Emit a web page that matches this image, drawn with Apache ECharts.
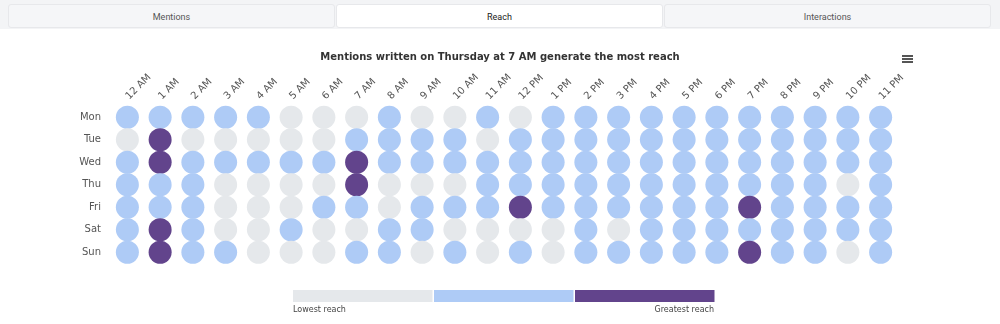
<!DOCTYPE html>
<html>
<head>
<meta charset="utf-8">
<script src="https://cdn.jsdelivr.net/npm/echarts@6/dist/echarts.min.js"></script>
<style>
  html, body { margin: 0; padding: 0; background: #fff; }
  #wrap { position: relative; width: 1000px; height: 324px; overflow: hidden; }
  #chart { position: absolute; left: 0; top: 0; width: 1000px; height: 324px; }
  #tabs { position: absolute; left: 0; top: 0; width: 1000px; height: 29px; background: #f3f4f6; z-index: 2; }
  .tab { position: absolute; top: 4px; height: 24px; width: 327px; box-sizing: border-box;
         border: 1px solid #e7e8eb; border-radius: 3px; background: #f5f6f8;
         font-family: Roboto, sans-serif; font-size: 9px; color: #555; text-align: center; line-height: 24px; }
  .tab.active { background: #fff; color: #222; }
</style>
</head>
<body>
<div id="wrap">
  <div id="chart"></div>
  <div id="tabs">
    <div class="tab" style="left:8px">Mentions</div>
    <div class="tab active" style="left:336px">Reach</div>
    <div class="tab" style="left:664px">Interactions</div>
  </div>
</div>
<script>
const hours = ['12 AM','1 AM','2 AM','3 AM','4 AM','5 AM','6 AM','7 AM','8 AM','9 AM','10 AM','11 AM',
               '12 PM','1 PM','2 PM','3 PM','4 PM','5 PM','6 PM','7 PM','8 PM','9 PM','10 PM','11 PM'];
const days = ['Mon','Tue','Wed','Thu','Fri','Sat','Sun'];
// reach level per day (0 = lowest, 1 = medium, 2 = greatest), one value per hour
const mon = [1,1,1,1,1,0,0,0,1,0,0,1, 0,1,1,1,1,1,1,1,1,1,1,1];
const tue = [0,2,0,0,0,0,0,1,1,1,1,0, 1,1,1,1,1,1,1,1,1,1,1,1];
const wed = [1,2,1,1,1,1,1,2,1,1,1,1, 1,1,1,1,1,1,1,1,1,1,1,1];
const thu = [1,1,1,0,0,0,0,2,0,0,0,1, 1,1,1,1,1,1,1,1,1,1,0,1];
const fri = [1,1,1,0,0,0,1,1,0,1,1,1, 2,1,1,1,1,1,1,2,1,1,1,1];
const sat = [1,2,1,0,0,1,0,0,1,1,0,0, 0,0,1,0,1,1,1,1,1,1,1,1];
const sun = [1,2,1,1,0,0,0,1,1,0,1,0, 1,0,1,1,1,1,1,2,1,1,0,1];
const levels = [mon, tue, wed, thu, fri, sat, sun];
const legendLabels = ['Lowest reach', 'Greatest reach'];

const data = [];
levels.forEach((row, d) => row.forEach((v, h) => data.push([h, d, v])));

const chart = echarts.init(document.getElementById('chart'), null, { renderer: 'canvas' });
chart.setOption({
  animation: false,
  title: {
    text: 'Mentions written on Thursday at 7 AM generate the most reach',
    left: 'center', top: 47,
    textStyle: { fontFamily: 'DejaVu Sans', fontSize: 10, fontWeight: 'bold', color: '#333' }
  },
  toolbox: {
    left: 902, top: 55, padding: 0, itemSize: 11,
    feature: {
      myMenu: {
        show: true, title: '',
        icon: 'path://M0 0H11V2H0Z M0 3H11V5H0Z M0 6H11V8H0Z',
        onclick: function () {}
      }
    },
    iconStyle: { color: '#555', borderWidth: 0 }
  },
  grid: { left: 111, right: 103, top: 106, height: 157.5 },
  xAxis: {
    type: 'category', data: hours, position: 'top',
    axisLine: { show: false }, axisTick: { show: false }, splitLine: { show: false },
    axisLabel: { rotate: -45, margin: 8, color: '#555', fontFamily: 'DejaVu Sans', fontSize: 10, interval: 0 }
  },
  yAxis: {
    type: 'category', data: days, inverse: true,
    axisLine: { show: false }, axisTick: { show: false }, splitLine: { show: false },
    axisLabel: { margin: 10, color: '#555', fontFamily: 'DejaVu Sans', fontSize: 10 }
  },
  visualMap: {
    type: 'piecewise', orient: 'horizontal', dimension: 2,
    left: 293, top: 290, padding: 0,
    itemWidth: 139.5, itemHeight: 12, itemGap: 1.5, itemSymbol: 'rect',
    showLabel: false, selectedMode: false,
    pieces: [
      { value: 0, color: '#e5e8eb' },
      { value: 1, color: '#aecbf6' },
      { value: 2, color: '#62448c' }
    ]
  },
  graphic: [
    { type: 'text', left: 293, top: 306, style: { text: legendLabels[0], font: '8px "DejaVu Sans"', fill: '#444' } },
    { type: 'text', right: 286, top: 306, style: { text: legendLabels[1], font: '8px "DejaVu Sans"', fill: '#444' } }
  ],
  series: [{
    type: 'scatter', data: data, symbol: 'circle', symbolSize: 23,
    itemStyle: { opacity: 1 },
    emphasis: { disabled: true }
  }]
});
</script>
</body>
</html>
